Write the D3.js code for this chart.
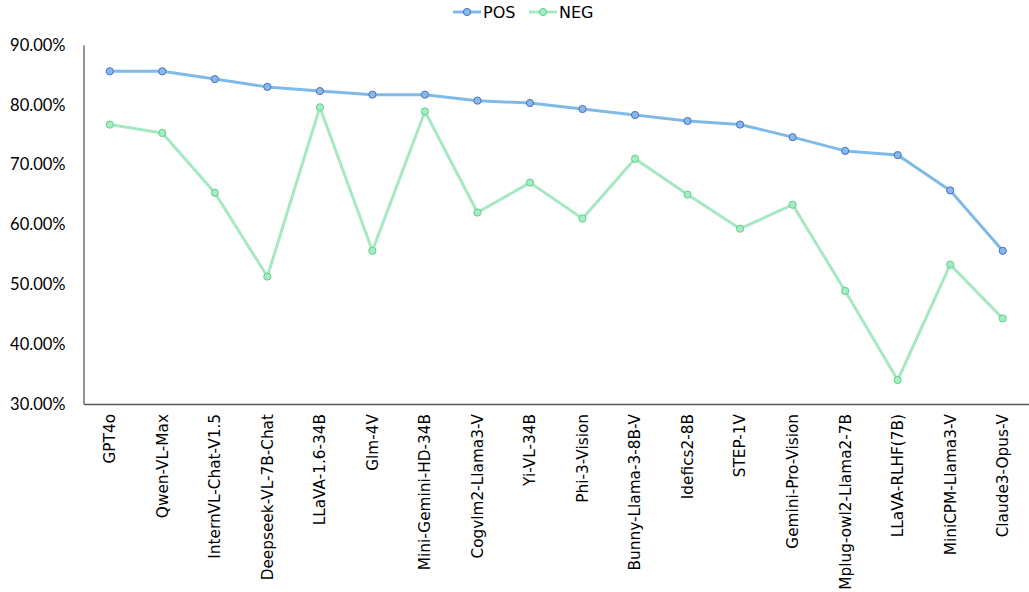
<!DOCTYPE html>
<html><head><meta charset="utf-8">
<script src="https://cdn.jsdelivr.net/npm/d3@7"></script>
<style>body{margin:0;background:#fff}svg{display:block}</style>
</head><body>
<svg id="chart" width="1029" height="592"></svg>
<script>
const categories = ["GPT4o","Qwen-VL-Max","InternVL-Chat-V1.5","Deepseek-VL-7B-Chat","LLaVA-1.6-34B","Glm-4V","Mini-Gemini-HD-34B","Cogvlm2-Llama3-V","Yi-VL-34B","Phi-3-Vision","Bunny-Llama-3-8B-V","Idefics2-8B","STEP-1V","Gemini-Pro-Vision","Mplug-owl2-Llama2-7B","LLaVA-RLHF(7B)","MiniCPM-Llama3-V","Claude3-Opus-V"];
const posValues = [85.6,85.6,84.3,83.0,82.3,81.7,81.7,80.7,80.3,79.3,78.3,77.3,76.7,74.6,72.3,71.6,65.7,55.6];
const negValues = [76.7,75.3,65.3,51.3,79.6,55.6,78.9,62.0,67.0,61.0,71.0,65.0,59.3,63.3,48.9,34.0,53.3,44.3];
const yTicks = [30,40,50,60,70,80,90];
const seriesNames = ["POS","NEG"];

const svg = d3.select("#chart");
const mLeft = 83.5, mRight = 1029, mTop = 45, mBottom = 404;
const comic = "'DejaVu Sans',sans-serif";

const x = d3.scaleBand().domain(categories).range([mLeft, mRight]);
const y = d3.scaleLinear().domain([30, 90]).range([mBottom, mTop]);

// y axis
const yAxis = svg.append("g").attr("transform", `translate(${mLeft},0)`)
  .call(d3.axisLeft(y).tickValues(yTicks).tickSize(0).tickPadding(18).tickFormat(d => d.toFixed(2) + "%"));
yAxis.select(".domain").attr("stroke", "#595959").attr("stroke-width", 1.3);
yAxis.selectAll("text").attr("font-family", "Lato, 'Open Sans', sans-serif").attr("font-size", 16.5).attr("fill", "#000");

// x axis
const xAxis = svg.append("g").attr("transform", `translate(0,${mBottom})`)
  .call(d3.axisBottom(x).tickSize(0).tickPadding(0));
xAxis.select(".domain").attr("stroke", "#595959").attr("stroke-width", 1.3);
xAxis.selectAll("text")
  .attr("font-family", comic).attr("font-size", 15.3).attr("fill", "#000")
  .attr("transform", "rotate(-90)")
  .attr("text-anchor", "end").attr("dy", "0.35em").attr("x", -10).attr("y", 0);

const cx = d => x(d) + x.bandwidth() / 2;
const series = [
  {name: seriesNames[0], values: posValues, line: "#80bbe8", fill: "#8ab9e8", stroke: "#4472c4"},
  {name: seriesNames[1], values: negValues, line: "#a6e8c3", fill: "#a6ecc2", stroke: "#5fd18d"}
];
const line = d3.line().x((d, i) => cx(categories[i])).y(d => y(d));
series.forEach(s => {
  svg.append("path").datum(s.values).attr("d", line)
    .attr("fill", "none").attr("stroke", s.line).attr("stroke-width", 3).attr("stroke-linejoin", "round");
  svg.append("g").selectAll("circle").data(s.values).join("circle")
    .attr("cx", (d, i) => cx(categories[i])).attr("cy", d => y(d)).attr("r", 3.6)
    .attr("fill", s.fill).attr("stroke", s.stroke).attr("stroke-width", 1);
});

// legend
const legendX = [453, 529];
series.forEach((s, i) => {
  const g = svg.append("g").attr("transform", `translate(${legendX[i]},12)`);
  g.append("line").attr("x1", 0).attr("x2", 28).attr("stroke", s.line).attr("stroke-width", 3);
  g.append("circle").attr("cx", 14).attr("r", 3.6).attr("fill", s.fill).attr("stroke", s.stroke);
  g.append("text").attr("x", 30).attr("dy", "0.35em").attr("font-family", comic)
    .attr("font-size", 16).attr("fill", "#000").text(s.name);
});
</script>
</body></html>
